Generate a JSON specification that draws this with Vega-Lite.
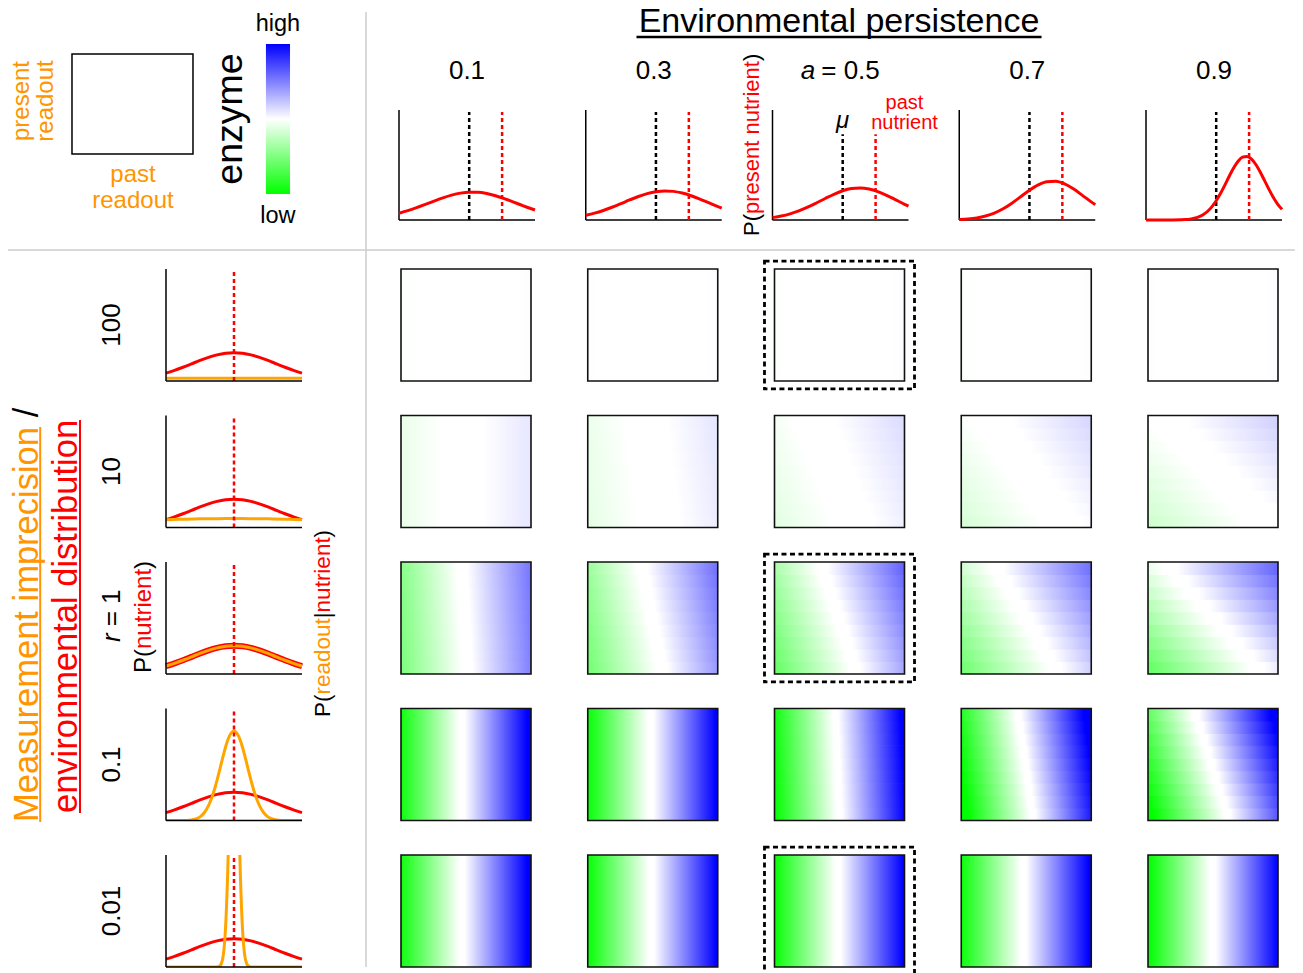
{
"$schema": "https://vega.github.io/schema/vega-lite/v6.json",
"background": "white",
"padding": 0,
"bounds": "flush",
"spacing": 269,
"config": {"font": "Liberation Sans", "view": {"stroke": null}},
"vconcat": [
{
"hconcat": [
{
"width": 366, "height": 250,
"data": {"values": [{}]},
"layer": [
{"mark": {"type": "rule", "color": "#cccccc", "strokeWidth": 1.5},
 "encoding": {"x": {"datum": 2.43, "type": "quantitative", "scale": {"domain": [-0.595, 2.43], "nice": false, "zero": false}, "axis": null},
  "y": {"datum": 1.42, "type": "quantitative", "scale": {"domain": [-0.96, 1.54], "nice": false, "zero": false}, "axis": null},
  "y2": {"datum": -8.13}}},
{"mark": {"type": "rule", "color": "#cccccc", "strokeWidth": 1.5},
 "encoding": {"x": {"datum": -0.529}, "x2": {"datum": 10.107}, "y": {"datum": -0.96}}},
{"mark": {"type": "rect", "filled": false, "color": "black", "strokeWidth": 1.5},
 "encoding": {"x": {"datum": 0}, "x2": {"datum": 1}, "y": {"datum": 0}, "y2": {"datum": 1}}},
{"mark": {"type": "rect", "fill": {"gradient": "linear", "x1": 0, "y1": 0, "x2": 0, "y2": 1, "stops": [{"offset": 0, "color": "#0000ff"}, {"offset": 0.5, "color": "#ffffff"}, {"offset": 1, "color": "#00ff00"}]}},
 "encoding": {"x": {"datum": 1.603}, "x2": {"datum": 1.802}, "y": {"datum": -0.4}, "y2": {"datum": 1.1}}},
{"mark": {"type": "text", "text": ["present", "readout"], "angle": 270, "fontSize": 24, "lineHeight": 24, "color": "#ff9500", "align": "center", "baseline": "alphabetic"},
 "encoding": {"x": {"datum": -0.355}, "y": {"datum": 0.53}}},
{"mark": {"type": "text", "text": ["past", "readout"], "fontSize": 24, "lineHeight": 26, "color": "#ff9500", "align": "center", "baseline": "alphabetic"},
 "encoding": {"x": {"datum": 0.504}, "y": {"datum": -0.28}}},
{"mark": {"type": "text", "text": "high", "fontSize": 23.5, "align": "center", "baseline": "alphabetic"},
 "encoding": {"x": {"datum": 1.702}, "y": {"datum": 1.23}}},
{"mark": {"type": "text", "text": "low", "fontSize": 23.5, "align": "center", "baseline": "alphabetic"},
 "encoding": {"x": {"datum": 1.702}, "y": {"datum": -0.687}}},
{"mark": {"type": "text", "text": "enzyme", "angle": 270, "fontSize": 37.5, "align": "center", "baseline": "alphabetic"},
 "encoding": {"x": {"datum": 1.405}, "y": {"datum": 0.35}}}
]
},
{
"data": {"values": [
{"a":0.1,"k":"c","n":-1.6,"p":0.0972},{"a":0.1,"k":"c","n":-1.4,"p":0.1337},{"a":0.1,"k":"c","n":-1.2,"p":0.1765},{"a":0.1,"k":"c","n":-1.0,"p":0.2237},{"a":0.1,"k":"c","n":-0.8,"p":0.2724},{"a":0.1,"k":"c","n":-0.6,"p":0.3186},{"a":0.1,"k":"c","n":-0.4,"p":0.3578},{"a":0.1,"k":"c","n":-0.2,"p":0.386},{"a":0.1,"k":"c","n":0,"p":0.3999},{"a":0.1,"k":"c","n":0.2,"p":0.3978},{"a":0.1,"k":"c","n":0.4,"p":0.3802},{"a":0.1,"k":"c","n":0.6,"p":0.3489},{"a":0.1,"k":"c","n":0.8,"p":0.3075},{"a":0.1,"k":"c","n":1.0,"p":0.2603},{"a":0.1,"k":"c","n":1.2,"p":0.2116},{"a":0.1,"k":"c","n":1.4,"p":0.1652},{"a":0.1,"k":"c","n":1.5,"p":0.1438},
{"a":0.3,"k":"c","n":-1.6,"p":0.0671},{"a":0.3,"k":"c","n":-1.4,"p":0.098},{"a":0.3,"k":"c","n":-1.2,"p":0.137},{"a":0.3,"k":"c","n":-1.0,"p":0.1834},{"a":0.3,"k":"c","n":-0.8,"p":0.2348},{"a":0.3,"k":"c","n":-0.6,"p":0.2877},{"a":0.3,"k":"c","n":-0.4,"p":0.3374},{"a":0.3,"k":"c","n":-0.2,"p":0.3787},{"a":0.3,"k":"c","n":0,"p":0.4067},{"a":0.3,"k":"c","n":0.2,"p":0.4181},{"a":0.3,"k":"c","n":0.4,"p":0.4112},{"a":0.3,"k":"c","n":0.6,"p":0.3871},{"a":0.3,"k":"c","n":0.8,"p":0.3487},{"a":0.3,"k":"c","n":1.0,"p":0.3006},{"a":0.3,"k":"c","n":1.2,"p":0.2481},{"a":0.3,"k":"c","n":1.4,"p":0.1958},{"a":0.3,"k":"c","n":1.5,"p":0.1712},
{"a":0.5,"k":"c","n":-1.6,"p":0.0342},{"a":0.5,"k":"c","n":-1.4,"p":0.0564},{"a":0.5,"k":"c","n":-1.2,"p":0.0881},{"a":0.5,"k":"c","n":-1.0,"p":0.1306},{"a":0.5,"k":"c","n":-0.8,"p":0.1835},{"a":0.5,"k":"c","n":-0.6,"p":0.2444},{"a":0.5,"k":"c","n":-0.4,"p":0.3087},{"a":0.5,"k":"c","n":-0.2,"p":0.3696},{"a":0.5,"k":"c","n":0,"p":0.4195},{"a":0.5,"k":"c","n":0.2,"p":0.4514},{"a":0.5,"k":"c","n":0.4,"p":0.4605},{"a":0.5,"k":"c","n":0.6,"p":0.4454},{"a":0.5,"k":"c","n":0.8,"p":0.4085},{"a":0.5,"k":"c","n":1.0,"p":0.3551},{"a":0.5,"k":"c","n":1.2,"p":0.2926},{"a":0.5,"k":"c","n":1.4,"p":0.2287},{"a":0.5,"k":"c","n":1.5,"p":0.1981},
{"a":0.7,"k":"c","n":-1.6,"p":0.0067},{"a":0.7,"k":"c","n":-1.4,"p":0.0148},{"a":0.7,"k":"c","n":-1.2,"p":0.0302},{"a":0.7,"k":"c","n":-1.0,"p":0.0571},{"a":0.7,"k":"c","n":-0.8,"p":0.0999},{"a":0.7,"k":"c","n":-0.6,"p":0.1615},{"a":0.7,"k":"c","n":-0.4,"p":0.2415},{"a":0.7,"k":"c","n":-0.2,"p":0.3338},{"a":0.7,"k":"c","n":0,"p":0.4264},{"a":0.7,"k":"c","n":0.2,"p":0.5038},{"a":0.7,"k":"c","n":0.4,"p":0.5502},{"a":0.7,"k":"c","n":0.6,"p":0.5556},{"a":0.7,"k":"c","n":0.8,"p":0.5188},{"a":0.7,"k":"c","n":1.0,"p":0.4479},{"a":0.7,"k":"c","n":1.2,"p":0.3575},{"a":0.7,"k":"c","n":1.4,"p":0.2638},{"a":0.7,"k":"c","n":1.5,"p":0.22},
{"a":0.9,"k":"c","n":-1.6,"p":0},{"a":0.9,"k":"c","n":-1.2,"p":0.0001},{"a":0.9,"k":"c","n":-1.0,"p":0.0006},{"a":0.9,"k":"c","n":-0.8,"p":0.003},{"a":0.9,"k":"c","n":-0.7,"p":0.0063},{"a":0.9,"k":"c","n":-0.6,"p":0.0127},{"a":0.9,"k":"c","n":-0.5,"p":0.0242},{"a":0.9,"k":"c","n":-0.4,"p":0.0437},{"a":0.9,"k":"c","n":-0.3,"p":0.075},{"a":0.9,"k":"c","n":-0.2,"p":0.122},{"a":0.9,"k":"c","n":-0.1,"p":0.1884},{"a":0.9,"k":"c","n":0,"p":0.276},{"a":0.9,"k":"c","n":0.1,"p":0.3835},{"a":0.9,"k":"c","n":0.2,"p":0.5055},{"a":0.9,"k":"c","n":0.3,"p":0.6322},{"a":0.9,"k":"c","n":0.4,"p":0.7502},{"a":0.9,"k":"c","n":0.5,"p":0.8445},{"a":0.9,"k":"c","n":0.6,"p":0.9018},{"a":0.9,"k":"c","n":0.7,"p":0.9138},{"a":0.9,"k":"c","n":0.8,"p":0.8784},{"a":0.9,"k":"c","n":0.9,"p":0.8012},{"a":0.9,"k":"c","n":1.0,"p":0.6932},{"a":0.9,"k":"c","n":1.1,"p":0.569},{"a":0.9,"k":"c","n":1.2,"p":0.4432},{"a":0.9,"k":"c","n":1.3,"p":0.3274},{"a":0.9,"k":"c","n":1.4,"p":0.2295},{"a":0.9,"k":"c","n":1.5,"p":0.1527},
{"a":0.1,"k":"mu","n":0},{"a":0.1,"k":"past","n":0.75},
{"a":0.3,"k":"mu","n":0},{"a":0.3,"k":"past","n":0.75},
{"a":0.5,"k":"mu","n":0},{"a":0.5,"k":"past","n":0.75},
{"a":0.7,"k":"mu","n":0},{"a":0.7,"k":"past","n":0.75},
{"a":0.9,"k":"mu","n":0},{"a":0.9,"k":"past","n":0.75},
{"a":0.1,"k":"head","t":"0.1"},{"a":0.3,"k":"head","t":"0.3"},{"a":0.7,"k":"head","t":"0.7"},{"a":0.9,"k":"head","t":"0.9"},
{"a":0.5,"k":"ann"}
]},
"facet": {"column": {"field": "a", "type": "ordinal", "header": null}},
"spacing": 50.75,
"bounds": "flush",
"spec": {
"width": 136, "height": 220,
"layer": [
{"transform": [{"filter": "datum.k == 'mu'"}],
 "mark": {"type": "rule", "color": "black", "strokeWidth": 1.5},
 "encoding": {"x": {"datum": -1.6, "type": "quantitative", "scale": {"domain": [-1.6, 1.5], "nice": false, "zero": false}, "axis": null},
  "y": {"datum": 0, "type": "quantitative", "scale": {"domain": [0, 3.16], "nice": false, "zero": false}, "axis": null},
  "y2": {"datum": 1.58}}},
{"transform": [{"filter": "datum.k == 'mu'"}],
 "mark": {"type": "rule", "color": "black", "strokeWidth": 1.5},
 "encoding": {"x": {"datum": -1.6}, "x2": {"datum": 1.5}, "y": {"datum": 0}}},
{"transform": [{"filter": "(datum.k == 'mu' || datum.k == 'past') && datum.a != 0.5"}],
 "mark": {"type": "rule", "strokeWidth": 2.5, "strokeDash": [4, 3]},
 "encoding": {"x": {"field": "n", "type": "quantitative"}, "y": {"datum": 0}, "y2": {"datum": 1.55},
  "color": {"field": "k", "type": "nominal", "scale": {"domain": ["mu", "past"], "range": ["black", "#ff0000"]}, "legend": null}}},
{"transform": [{"filter": "(datum.k == 'mu' || datum.k == 'past') && datum.a == 0.5"}],
 "mark": {"type": "rule", "strokeWidth": 2.5, "strokeDash": [4, 3]},
 "encoding": {"x": {"field": "n", "type": "quantitative"}, "y": {"datum": 0}, "y2": {"datum": 1.23},
  "color": {"field": "k", "type": "nominal", "legend": null}}},
{"transform": [{"filter": "datum.k == 'c'"}],
 "mark": {"type": "line", "color": "#ff0000", "strokeWidth": 3, "interpolate": "monotone"},
 "encoding": {"x": {"field": "n", "type": "quantitative"}, "y": {"field": "p", "type": "quantitative"}}},
{"transform": [{"filter": "datum.k == 'head'"}],
 "mark": {"type": "text", "fontSize": 26, "align": "center", "baseline": "middle"},
 "encoding": {"text": {"field": "t"}, "x": {"datum": -0.05}, "y": {"datum": 2.14}}},
{"transform": [{"filter": "datum.k == 'ann'"}],
 "mark": {"type": "text", "text": "= 0.5", "fontSize": 26, "align": "center", "baseline": "middle"},
 "encoding": {"x": {"datum": 0.178}, "y": {"datum": 2.14}}},
{"transform": [{"filter": "datum.k == 'ann'"}],
 "mark": {"type": "text", "text": "a", "fontStyle": "italic", "fontSize": 26, "align": "center", "baseline": "middle"},
 "encoding": {"x": {"datum": -0.791}, "y": {"datum": 2.14}}},
{"transform": [{"filter": "datum.k == 'ann'"}],
 "mark": {"type": "text", "text": "Environmental persistence", "fontSize": 34, "align": "center", "baseline": "alphabetic"},
 "encoding": {"x": {"datum": -0.084}, "y": {"datum": 2.7}}},
{"transform": [{"filter": "datum.k == 'ann'"}],
 "mark": {"type": "rule", "color": "black", "strokeWidth": 2.5},
 "encoding": {"x": {"datum": -4.7}, "x2": {"datum": 4.532}, "y": {"datum": 2.629}}},
{"transform": [{"filter": "datum.k == 'ann'"}],
 "mark": {"type": "text", "text": "μ", "fontStyle": "italic", "fontSize": 24, "align": "center", "baseline": "alphabetic"},
 "encoding": {"x": {"datum": 0}, "y": {"datum": 1.3215}}},
{"transform": [{"filter": "datum.k == 'ann'"}],
 "mark": {"type": "text", "text": ["past", "nutrient"], "color": "#ff0000", "fontSize": 20, "lineHeight": 20, "align": "center", "baseline": "middle"},
 "encoding": {"x": {"datum": 1.409}, "y": {"datum": 1.681}}},
{"transform": [{"filter": "datum.k == 'ann'"}],
 "mark": {"type": "text", "text": "P(", "angle": 270, "fontSize": 22, "align": "left", "baseline": "middle"},
 "encoding": {"x": {"datum": -2.056}, "y": {"datum": -0.23}}},
{"transform": [{"filter": "datum.k == 'ann'"}],
 "mark": {"type": "text", "text": "present nutrient", "color": "#ff0000", "angle": 270, "fontSize": 22, "align": "left", "baseline": "middle"},
 "encoding": {"x": {"datum": -2.056}, "y": {"datum": 0.086}}},
{"transform": [{"filter": "datum.k == 'ann'"}],
 "mark": {"type": "text", "text": ")", "angle": 270, "fontSize": 22, "align": "left", "baseline": "middle"},
 "encoding": {"x": {"datum": -2.056}, "y": {"datum": 2.284}}}
]
}
}
],
"spacing": 33,
"bounds": "flush"
},
{
"hconcat": [
{
"width": 67, "height": 698,
"data": {"values": [{}]},
"layer": [
{"mark": {"type": "text", "text": "Measurement imprecision", "angle": 270, "fontSize": 34.5, "color": "#ff9500", "align": "left", "baseline": "alphabetic"},
 "encoding": {"x": {"datum": 0.56, "type": "quantitative", "scale": {"domain": [0, 1], "nice": false, "zero": false}, "axis": null},
  "y": {"datum": 0.2077, "type": "quantitative", "scale": {"domain": [0, 1], "nice": false, "zero": false}, "axis": null}}},
{"mark": {"type": "text", "text": "/", "angle": 270, "fontSize": 34.5, "color": "black", "align": "left", "baseline": "alphabetic"},
 "encoding": {"x": {"datum": 0.56}, "y": {"datum": 0.7876}}},
{"mark": {"type": "rule", "color": "#ff9500", "strokeWidth": 2},
 "encoding": {"x": {"datum": 0.6}, "y": {"datum": 0.2077}, "y2": {"datum": 0.7736}}},
{"mark": {"type": "text", "text": "environmental distribution", "angle": 270, "fontSize": 34.5, "color": "#ff0000", "align": "left", "baseline": "alphabetic"},
 "encoding": {"x": {"datum": 1.149}, "y": {"datum": 0.2206}}},
{"mark": {"type": "rule", "color": "#ff0000", "strokeWidth": 2},
 "encoding": {"x": {"datum": 1.194}, "y": {"datum": 0.2206}, "y2": {"datum": 0.7837}}}
]
},
{
"hconcat": [
{
"data": {"values": [
{"r":100,"k":"env","n":-1.6,"p":0.1109},{"r":100,"k":"env","n":-1.4,"p":0.1497},{"r":100,"k":"env","n":-1.2,"p":0.1942},{"r":100,"k":"env","n":-1.0,"p":0.242},{"r":100,"k":"env","n":-0.8,"p":0.2897},{"r":100,"k":"env","n":-0.6,"p":0.3332},{"r":100,"k":"env","n":-0.4,"p":0.3683},{"r":100,"k":"env","n":-0.2,"p":0.391},{"r":100,"k":"env","n":0,"p":0.3989},{"r":100,"k":"env","n":0.2,"p":0.391},{"r":100,"k":"env","n":0.4,"p":0.3683},{"r":100,"k":"env","n":0.6,"p":0.3332},{"r":100,"k":"env","n":0.8,"p":0.2897},{"r":100,"k":"env","n":1.0,"p":0.242},{"r":100,"k":"env","n":1.2,"p":0.1942},{"r":100,"k":"env","n":1.4,"p":0.1497},{"r":100,"k":"env","n":1.6,"p":0.1109},
{"r":10,"k":"env","n":-1.6,"p":0.1109},{"r":10,"k":"env","n":-1.4,"p":0.1497},{"r":10,"k":"env","n":-1.2,"p":0.1942},{"r":10,"k":"env","n":-1.0,"p":0.242},{"r":10,"k":"env","n":-0.8,"p":0.2897},{"r":10,"k":"env","n":-0.6,"p":0.3332},{"r":10,"k":"env","n":-0.4,"p":0.3683},{"r":10,"k":"env","n":-0.2,"p":0.391},{"r":10,"k":"env","n":0,"p":0.3989},{"r":10,"k":"env","n":0.2,"p":0.391},{"r":10,"k":"env","n":0.4,"p":0.3683},{"r":10,"k":"env","n":0.6,"p":0.3332},{"r":10,"k":"env","n":0.8,"p":0.2897},{"r":10,"k":"env","n":1.0,"p":0.242},{"r":10,"k":"env","n":1.2,"p":0.1942},{"r":10,"k":"env","n":1.4,"p":0.1497},{"r":10,"k":"env","n":1.6,"p":0.1109},
{"r":1,"k":"env","n":-1.6,"p":0.1109},{"r":1,"k":"env","n":-1.4,"p":0.1497},{"r":1,"k":"env","n":-1.2,"p":0.1942},{"r":1,"k":"env","n":-1.0,"p":0.242},{"r":1,"k":"env","n":-0.8,"p":0.2897},{"r":1,"k":"env","n":-0.6,"p":0.3332},{"r":1,"k":"env","n":-0.4,"p":0.3683},{"r":1,"k":"env","n":-0.2,"p":0.391},{"r":1,"k":"env","n":0,"p":0.3989},{"r":1,"k":"env","n":0.2,"p":0.391},{"r":1,"k":"env","n":0.4,"p":0.3683},{"r":1,"k":"env","n":0.6,"p":0.3332},{"r":1,"k":"env","n":0.8,"p":0.2897},{"r":1,"k":"env","n":1.0,"p":0.242},{"r":1,"k":"env","n":1.2,"p":0.1942},{"r":1,"k":"env","n":1.4,"p":0.1497},{"r":1,"k":"env","n":1.6,"p":0.1109},
{"r":0.1,"k":"env","n":-1.6,"p":0.1109},{"r":0.1,"k":"env","n":-1.4,"p":0.1497},{"r":0.1,"k":"env","n":-1.2,"p":0.1942},{"r":0.1,"k":"env","n":-1.0,"p":0.242},{"r":0.1,"k":"env","n":-0.8,"p":0.2897},{"r":0.1,"k":"env","n":-0.6,"p":0.3332},{"r":0.1,"k":"env","n":-0.4,"p":0.3683},{"r":0.1,"k":"env","n":-0.2,"p":0.391},{"r":0.1,"k":"env","n":0,"p":0.3989},{"r":0.1,"k":"env","n":0.2,"p":0.391},{"r":0.1,"k":"env","n":0.4,"p":0.3683},{"r":0.1,"k":"env","n":0.6,"p":0.3332},{"r":0.1,"k":"env","n":0.8,"p":0.2897},{"r":0.1,"k":"env","n":1.0,"p":0.242},{"r":0.1,"k":"env","n":1.2,"p":0.1942},{"r":0.1,"k":"env","n":1.4,"p":0.1497},{"r":0.1,"k":"env","n":1.6,"p":0.1109},
{"r":0.01,"k":"env","n":-1.6,"p":0.1109},{"r":0.01,"k":"env","n":-1.4,"p":0.1497},{"r":0.01,"k":"env","n":-1.2,"p":0.1942},{"r":0.01,"k":"env","n":-1.0,"p":0.242},{"r":0.01,"k":"env","n":-0.8,"p":0.2897},{"r":0.01,"k":"env","n":-0.6,"p":0.3332},{"r":0.01,"k":"env","n":-0.4,"p":0.3683},{"r":0.01,"k":"env","n":-0.2,"p":0.391},{"r":0.01,"k":"env","n":0,"p":0.3989},{"r":0.01,"k":"env","n":0.2,"p":0.391},{"r":0.01,"k":"env","n":0.4,"p":0.3683},{"r":0.01,"k":"env","n":0.6,"p":0.3332},{"r":0.01,"k":"env","n":0.8,"p":0.2897},{"r":0.01,"k":"env","n":1.0,"p":0.242},{"r":0.01,"k":"env","n":1.2,"p":0.1942},{"r":0.01,"k":"env","n":1.4,"p":0.1497},{"r":0.01,"k":"env","n":1.6,"p":0.1109},
{"r":100,"k":"read","n":-1.6,"p":0.0394},{"r":100,"k":"read","n":-0.8,"p":0.0398},{"r":100,"k":"read","n":0,"p":0.0399},{"r":100,"k":"read","n":0.8,"p":0.0398},{"r":100,"k":"read","n":1.6,"p":0.0394},
{"r":10,"k":"read","n":-1.6,"p":0.111},{"r":10,"k":"read","n":-1.2,"p":0.1174},{"r":10,"k":"read","n":-0.8,"p":0.1222},{"r":10,"k":"read","n":-0.4,"p":0.1251},{"r":10,"k":"read","n":0,"p":0.1262},{"r":10,"k":"read","n":0.4,"p":0.1251},{"r":10,"k":"read","n":0.8,"p":0.1222},{"r":10,"k":"read","n":1.2,"p":0.1174},{"r":10,"k":"read","n":1.6,"p":0.111},
{"r":1,"k":"read","n":-1.6,"p":0.1109},{"r":1,"k":"read","n":-1.4,"p":0.1497},{"r":1,"k":"read","n":-1.2,"p":0.1942},{"r":1,"k":"read","n":-1.0,"p":0.242},{"r":1,"k":"read","n":-0.8,"p":0.2897},{"r":1,"k":"read","n":-0.6,"p":0.3332},{"r":1,"k":"read","n":-0.4,"p":0.3683},{"r":1,"k":"read","n":-0.2,"p":0.391},{"r":1,"k":"read","n":0,"p":0.3989},{"r":1,"k":"read","n":0.2,"p":0.391},{"r":1,"k":"read","n":0.4,"p":0.3683},{"r":1,"k":"read","n":0.6,"p":0.3332},{"r":1,"k":"read","n":0.8,"p":0.2897},{"r":1,"k":"read","n":1.0,"p":0.242},{"r":1,"k":"read","n":1.2,"p":0.1942},{"r":1,"k":"read","n":1.4,"p":0.1497},{"r":1,"k":"read","n":1.6,"p":0.1109},
{"r":0.1,"k":"read","n":-1.6,"p":0},{"r":0.1,"k":"read","n":-1.2,"p":0.0009},{"r":0.1,"k":"read","n":-1.0,"p":0.0085},{"r":0.1,"k":"read","n":-0.9,"p":0.022},{"r":0.1,"k":"read","n":-0.8,"p":0.0514},{"r":0.1,"k":"read","n":-0.7,"p":0.1089},{"r":0.1,"k":"read","n":-0.6,"p":0.2085},{"r":0.1,"k":"read","n":-0.5,"p":0.3614},{"r":0.1,"k":"read","n":-0.45,"p":0.4583},{"r":0.1,"k":"read","n":-0.4,"p":0.5669},{"r":0.1,"k":"read","n":-0.35,"p":0.6838},{"r":0.1,"k":"read","n":-0.3,"p":0.8044},{"r":0.1,"k":"read","n":-0.25,"p":0.923},{"r":0.1,"k":"read","n":-0.2,"p":1.0329},{"r":0.1,"k":"read","n":-0.15,"p":1.1273},{"r":0.1,"k":"read","n":-0.1,"p":1.2001},{"r":0.1,"k":"read","n":-0.05,"p":1.2459},{"r":0.1,"k":"read","n":0,"p":1.2616},{"r":0.1,"k":"read","n":0.05,"p":1.2459},{"r":0.1,"k":"read","n":0.1,"p":1.2001},{"r":0.1,"k":"read","n":0.15,"p":1.1273},{"r":0.1,"k":"read","n":0.2,"p":1.0329},{"r":0.1,"k":"read","n":0.25,"p":0.923},{"r":0.1,"k":"read","n":0.3,"p":0.8044},{"r":0.1,"k":"read","n":0.35,"p":0.6838},{"r":0.1,"k":"read","n":0.4,"p":0.5669},{"r":0.1,"k":"read","n":0.45,"p":0.4583},{"r":0.1,"k":"read","n":0.5,"p":0.3614},{"r":0.1,"k":"read","n":0.6,"p":0.2085},{"r":0.1,"k":"read","n":0.7,"p":0.1089},{"r":0.1,"k":"read","n":0.8,"p":0.0514},{"r":0.1,"k":"read","n":0.9,"p":0.022},{"r":0.1,"k":"read","n":1.0,"p":0.0085},{"r":0.1,"k":"read","n":1.2,"p":0.0009},{"r":0.1,"k":"read","n":1.6,"p":0},
{"r":0.01,"k":"read","n":-1.6,"p":0},{"r":0.01,"k":"read","n":-0.5,"p":0},{"r":0.01,"k":"read","n":-0.4,"p":0.0013},{"r":0.01,"k":"read","n":-0.35,"p":0.0087},{"r":0.01,"k":"read","n":-0.3,"p":0.0443},{"r":0.01,"k":"read","n":-0.25,"p":0.175},{"r":0.01,"k":"read","n":-0.2,"p":0.54},{"r":0.01,"k":"read","n":-0.15,"p":1.295},{"r":0.01,"k":"read","n":-0.1,"p":2.419},{"r":0.01,"k":"read","n":-0.05,"p":3.52},{"r":0.01,"k":"read","n":0,"p":3.989},{"r":0.01,"k":"read","n":0.05,"p":3.52},{"r":0.01,"k":"read","n":0.1,"p":2.419},{"r":0.01,"k":"read","n":0.15,"p":1.295},{"r":0.01,"k":"read","n":0.2,"p":0.54},{"r":0.01,"k":"read","n":0.25,"p":0.175},{"r":0.01,"k":"read","n":0.3,"p":0.0443},{"r":0.01,"k":"read","n":0.35,"p":0.0087},{"r":0.01,"k":"read","n":0.4,"p":0.0013},{"r":0.01,"k":"read","n":0.5,"p":0},{"r":0.01,"k":"read","n":1.6,"p":0},
{"r":100,"k":"mid","n":0},{"r":10,"k":"mid","n":0},{"r":1,"k":"mid","n":0},{"r":0.1,"k":"mid","n":0},{"r":0.01,"k":"mid","n":0},
{"r":100,"k":"lab","t":"100"},{"r":10,"k":"lab","t":"10"},{"r":0.1,"k":"lab","t":"0.1"},{"r":0.01,"k":"lab","t":"0.01"},
{"r":1,"k":"ann"}
]},
"facet": {"row": {"field": "r", "type": "ordinal", "sort": "descending", "header": null}},
"spacing": 34.5,
"bounds": "flush",
"spec": {
"width": 136, "height": 112,
"layer": [
{"transform": [{"filter": "datum.k == 'env' && datum.r == 1"}],
 "mark": {"type": "line", "color": "#ff0000", "strokeWidth": 6, "interpolate": "monotone"},
 "encoding": {"x": {"field": "n", "type": "quantitative", "scale": {"domain": [-1.6, 1.6], "nice": false, "zero": false}, "axis": null},
  "y": {"field": "p", "type": "quantitative", "scale": {"domain": [0, 1.58], "nice": false, "zero": false}, "axis": null}}},
{"transform": [{"filter": "datum.k == 'env'"}],
 "mark": {"type": "line", "color": "#ff0000", "strokeWidth": 3, "interpolate": "monotone"},
 "encoding": {"x": {"field": "n", "type": "quantitative"}, "y": {"field": "p", "type": "quantitative"}}},
{"transform": [{"filter": "datum.k == 'read'"}],
 "mark": {"type": "line", "color": "#ffa500", "strokeWidth": 3, "interpolate": "monotone", "clip": true},
 "encoding": {"x": {"field": "n", "type": "quantitative"}, "y": {"field": "p", "type": "quantitative"}}},
{"transform": [{"filter": "datum.k == 'mid'"}],
 "mark": {"type": "rule", "color": "#ff0000", "strokeWidth": 2.5, "strokeDash": [4, 3]},
 "encoding": {"x": {"field": "n", "type": "quantitative"}, "y": {"datum": 0}, "y2": {"datum": 1.58}}},
{"transform": [{"filter": "datum.k == 'mid'"}],
 "mark": {"type": "rule", "color": "black", "strokeWidth": 1.5},
 "encoding": {"x": {"datum": -1.6}, "y": {"datum": 0}, "y2": {"datum": 1.58}}},
{"transform": [{"filter": "datum.k == 'mid'"}],
 "mark": {"type": "rule", "color": "black", "strokeWidth": 1.5},
 "encoding": {"x": {"datum": -1.6}, "x2": {"datum": 1.6}, "y": {"datum": 0}}},
{"transform": [{"filter": "datum.k == 'lab'"}],
 "mark": {"type": "text", "angle": 270, "fontSize": 26, "align": "center", "baseline": "middle"},
 "encoding": {"text": {"field": "t"}, "x": {"datum": -2.871}, "y": {"datum": 0.79}}},
{"transform": [{"filter": "datum.k == 'ann'"}],
 "mark": {"type": "text", "text": "r", "fontStyle": "italic", "angle": 270, "fontSize": 26, "align": "left", "baseline": "middle"},
 "encoding": {"x": {"datum": -2.871}, "y": {"datum": 0.45}}},
{"transform": [{"filter": "datum.k == 'ann'"}],
 "mark": {"type": "text", "text": "= 1", "angle": 270, "fontSize": 26, "align": "left", "baseline": "middle"},
 "encoding": {"x": {"datum": -2.871}, "y": {"datum": 0.672}}},
{"transform": [{"filter": "datum.k == 'ann'"}],
 "mark": {"type": "text", "text": "P(", "angle": 270, "fontSize": 24, "align": "left", "baseline": "middle"},
 "encoding": {"x": {"datum": -2.118}, "y": {"datum": 0.014}}},
{"transform": [{"filter": "datum.k == 'ann'"}],
 "mark": {"type": "text", "text": "nutrient", "color": "#ff0000", "angle": 270, "fontSize": 24, "align": "left", "baseline": "middle"},
 "encoding": {"x": {"datum": -2.118}, "y": {"datum": 0.353}}},
{"transform": [{"filter": "datum.k == 'ann'"}],
 "mark": {"type": "text", "text": ")", "angle": 270, "fontSize": 24, "align": "left", "baseline": "middle"},
 "encoding": {"x": {"datum": -2.118}, "y": {"datum": 1.481}}},
{"transform": [{"filter": "datum.k == 'ann'"}],
 "mark": {"type": "text", "text": "P(", "angle": 270, "fontSize": 22.5, "align": "left", "baseline": "middle"},
 "encoding": {"x": {"datum": 2.094}, "y": {"datum": -0.607}}},
{"transform": [{"filter": "datum.k == 'ann'"}],
 "mark": {"type": "text", "text": "readout", "color": "#ff9500", "angle": 270, "fontSize": 22.5, "align": "left", "baseline": "middle"},
 "encoding": {"x": {"datum": 2.094}, "y": {"datum": -0.289}}},
{"transform": [{"filter": "datum.k == 'ann'"}],
 "mark": {"type": "text", "text": "|", "angle": 270, "fontSize": 22.5, "align": "left", "baseline": "middle"},
 "encoding": {"x": {"datum": 2.094}, "y": {"datum": 0.787}}},
{"transform": [{"filter": "datum.k == 'ann'"}],
 "mark": {"type": "text", "text": "nutrient", "color": "#ff0000", "angle": 270, "fontSize": 22.5, "align": "left", "baseline": "middle"},
 "encoding": {"x": {"datum": 2.094}, "y": {"datum": 0.869}}},
{"transform": [{"filter": "datum.k == 'ann'"}],
 "mark": {"type": "text", "text": ")", "angle": 270, "fontSize": 22.5, "align": "left", "baseline": "middle"},
 "encoding": {"x": {"datum": 2.094}, "y": {"datum": 1.927}}}
]
}
},
{
"data": {"values": [
{"a":0.1,"r":100,"y0":0,"y1":1,"lo":-19.5,"hi":20.5},{"a":0.3,"r":100,"y0":0,"y1":1,"lo":-19.5,"hi":20.5},{"a":0.5,"r":100,"y0":0,"y1":1,"lo":-19.5,"hi":20.5},{"a":0.7,"r":100,"y0":0,"y1":1,"lo":-19.5,"hi":20.5},{"a":0.9,"r":100,"y0":0,"y1":1,"lo":-19.5,"hi":20.5},
{"a":0.1,"r":10,"y0":0,"y1":1,"lo":-7.53,"hi":8.47},
{"a":0.3,"r":10,"y0":0,"y1":0.1111,"lo":-7.45,"hi":8.55},{"a":0.3,"r":10,"y0":0.1111,"y1":0.2222,"lo":-7.4625,"hi":8.5375},{"a":0.3,"r":10,"y0":0.2222,"y1":0.3333,"lo":-7.475,"hi":8.525},{"a":0.3,"r":10,"y0":0.3333,"y1":0.4444,"lo":-7.4875,"hi":8.5125},{"a":0.3,"r":10,"y0":0.4444,"y1":0.5556,"lo":-7.5,"hi":8.5},{"a":0.3,"r":10,"y0":0.5556,"y1":0.6667,"lo":-7.5125,"hi":8.4875},{"a":0.3,"r":10,"y0":0.6667,"y1":0.7778,"lo":-7.525,"hi":8.475},{"a":0.3,"r":10,"y0":0.7778,"y1":0.8889,"lo":-7.5375,"hi":8.4625},{"a":0.3,"r":10,"y0":0.8889,"y1":1,"lo":-7.55,"hi":8.45},
{"a":0.5,"r":10,"y0":0,"y1":0.1111,"lo":-7.4,"hi":8.6},{"a":0.5,"r":10,"y0":0.1111,"y1":0.2222,"lo":-7.436,"hi":8.564},{"a":0.5,"r":10,"y0":0.2222,"y1":0.3333,"lo":-7.472,"hi":8.528},{"a":0.5,"r":10,"y0":0.3333,"y1":0.4444,"lo":-7.509,"hi":8.491},{"a":0.5,"r":10,"y0":0.4444,"y1":0.5556,"lo":-7.545,"hi":8.455},{"a":0.5,"r":10,"y0":0.5556,"y1":0.6667,"lo":-7.581,"hi":8.419},{"a":0.5,"r":10,"y0":0.6667,"y1":0.7778,"lo":-7.617,"hi":8.383},{"a":0.5,"r":10,"y0":0.7778,"y1":0.8889,"lo":-7.654,"hi":8.346},{"a":0.5,"r":10,"y0":0.8889,"y1":1,"lo":-7.69,"hi":8.31},
{"a":0.7,"r":10,"y0":0,"y1":0.1111,"lo":-7.23,"hi":8.77},{"a":0.7,"r":10,"y0":0.1111,"y1":0.2222,"lo":-7.296,"hi":8.704},{"a":0.7,"r":10,"y0":0.2222,"y1":0.3333,"lo":-7.362,"hi":8.638},{"a":0.7,"r":10,"y0":0.3333,"y1":0.4444,"lo":-7.429,"hi":8.571},{"a":0.7,"r":10,"y0":0.4444,"y1":0.5556,"lo":-7.495,"hi":8.505},{"a":0.7,"r":10,"y0":0.5556,"y1":0.6667,"lo":-7.561,"hi":8.439},{"a":0.7,"r":10,"y0":0.6667,"y1":0.7778,"lo":-7.627,"hi":8.373},{"a":0.7,"r":10,"y0":0.7778,"y1":0.8889,"lo":-7.694,"hi":8.306},{"a":0.7,"r":10,"y0":0.8889,"y1":1,"lo":-7.76,"hi":8.24},
{"a":0.9,"r":10,"y0":0,"y1":0.1111,"lo":-7.1,"hi":8.9},{"a":0.9,"r":10,"y0":0.1111,"y1":0.2222,"lo":-7.194,"hi":8.806},{"a":0.9,"r":10,"y0":0.2222,"y1":0.3333,"lo":-7.287,"hi":8.713},{"a":0.9,"r":10,"y0":0.3333,"y1":0.4444,"lo":-7.381,"hi":8.619},{"a":0.9,"r":10,"y0":0.4444,"y1":0.5556,"lo":-7.475,"hi":8.525},{"a":0.9,"r":10,"y0":0.5556,"y1":0.6667,"lo":-7.569,"hi":8.431},{"a":0.9,"r":10,"y0":0.6667,"y1":0.7778,"lo":-7.662,"hi":8.338},{"a":0.9,"r":10,"y0":0.7778,"y1":0.8889,"lo":-7.756,"hi":8.244},{"a":0.9,"r":10,"y0":0.8889,"y1":1,"lo":-7.85,"hi":8.15},
{"a":0.1,"r":1,"y0":0,"y1":0.1111,"lo":-1.39,"hi":2.41},{"a":0.1,"r":1,"y0":0.1111,"y1":0.2222,"lo":-1.395,"hi":2.405},{"a":0.1,"r":1,"y0":0.2222,"y1":0.3333,"lo":-1.4,"hi":2.4},{"a":0.1,"r":1,"y0":0.3333,"y1":0.4444,"lo":-1.405,"hi":2.395},{"a":0.1,"r":1,"y0":0.4444,"y1":0.5556,"lo":-1.41,"hi":2.39},{"a":0.1,"r":1,"y0":0.5556,"y1":0.6667,"lo":-1.415,"hi":2.385},{"a":0.1,"r":1,"y0":0.6667,"y1":0.7778,"lo":-1.42,"hi":2.38},{"a":0.1,"r":1,"y0":0.7778,"y1":0.8889,"lo":-1.425,"hi":2.375},{"a":0.1,"r":1,"y0":0.8889,"y1":1,"lo":-1.43,"hi":2.37},
{"a":0.3,"r":1,"y0":0,"y1":0.1111,"lo":-1.43,"hi":2.57},{"a":0.3,"r":1,"y0":0.1111,"y1":0.2222,"lo":-1.449,"hi":2.551},{"a":0.3,"r":1,"y0":0.2222,"y1":0.3333,"lo":-1.467,"hi":2.533},{"a":0.3,"r":1,"y0":0.3333,"y1":0.4444,"lo":-1.486,"hi":2.514},{"a":0.3,"r":1,"y0":0.4444,"y1":0.5556,"lo":-1.505,"hi":2.495},{"a":0.3,"r":1,"y0":0.5556,"y1":0.6667,"lo":-1.524,"hi":2.476},{"a":0.3,"r":1,"y0":0.6667,"y1":0.7778,"lo":-1.542,"hi":2.458},{"a":0.3,"r":1,"y0":0.7778,"y1":0.8889,"lo":-1.561,"hi":2.439},{"a":0.3,"r":1,"y0":0.8889,"y1":1,"lo":-1.58,"hi":2.42},
{"a":0.5,"r":1,"y0":0,"y1":0.1111,"lo":-1.38,"hi":2.62},{"a":0.5,"r":1,"y0":0.1111,"y1":0.2222,"lo":-1.411,"hi":2.589},{"a":0.5,"r":1,"y0":0.2222,"y1":0.3333,"lo":-1.442,"hi":2.558},{"a":0.5,"r":1,"y0":0.3333,"y1":0.4444,"lo":-1.474,"hi":2.526},{"a":0.5,"r":1,"y0":0.4444,"y1":0.5556,"lo":-1.505,"hi":2.495},{"a":0.5,"r":1,"y0":0.5556,"y1":0.6667,"lo":-1.536,"hi":2.464},{"a":0.5,"r":1,"y0":0.6667,"y1":0.7778,"lo":-1.567,"hi":2.433},{"a":0.5,"r":1,"y0":0.7778,"y1":0.8889,"lo":-1.599,"hi":2.401},{"a":0.5,"r":1,"y0":0.8889,"y1":1,"lo":-1.63,"hi":2.37},
{"a":0.7,"r":1,"y0":0,"y1":0.1111,"lo":-1.78,"hi":3.22},{"a":0.7,"r":1,"y0":0.1111,"y1":0.2222,"lo":-1.835,"hi":3.165},{"a":0.7,"r":1,"y0":0.2222,"y1":0.3333,"lo":-1.89,"hi":3.11},{"a":0.7,"r":1,"y0":0.3333,"y1":0.4444,"lo":-1.945,"hi":3.055},{"a":0.7,"r":1,"y0":0.4444,"y1":0.5556,"lo":-2.0,"hi":3.0},{"a":0.7,"r":1,"y0":0.5556,"y1":0.6667,"lo":-2.055,"hi":2.945},{"a":0.7,"r":1,"y0":0.6667,"y1":0.7778,"lo":-2.11,"hi":2.89},{"a":0.7,"r":1,"y0":0.7778,"y1":0.8889,"lo":-2.165,"hi":2.835},{"a":0.7,"r":1,"y0":0.8889,"y1":1,"lo":-2.22,"hi":2.78},
{"a":0.9,"r":1,"y0":0,"y1":0.1111,"lo":-1.86,"hi":3.54},{"a":0.9,"r":1,"y0":0.1111,"y1":0.2222,"lo":-1.944,"hi":3.456},{"a":0.9,"r":1,"y0":0.2222,"y1":0.3333,"lo":-2.027,"hi":3.373},{"a":0.9,"r":1,"y0":0.3333,"y1":0.4444,"lo":-2.111,"hi":3.289},{"a":0.9,"r":1,"y0":0.4444,"y1":0.5556,"lo":-2.195,"hi":3.205},{"a":0.9,"r":1,"y0":0.5556,"y1":0.6667,"lo":-2.279,"hi":3.121},{"a":0.9,"r":1,"y0":0.6667,"y1":0.7778,"lo":-2.362,"hi":3.038},{"a":0.9,"r":1,"y0":0.7778,"y1":0.8889,"lo":-2.446,"hi":2.954},{"a":0.9,"r":1,"y0":0.8889,"y1":1,"lo":-2.53,"hi":2.87},
{"a":0.1,"r":0.1,"y0":0,"y1":1,"lo":-0.53,"hi":1.47},
{"a":0.3,"r":0.1,"y0":0,"y1":1,"lo":-0.515,"hi":1.485},
{"a":0.5,"r":0.1,"y0":0,"y1":0.1111,"lo":-0.5,"hi":1.5},{"a":0.5,"r":0.1,"y0":0.1111,"y1":0.2222,"lo":-0.504,"hi":1.496},{"a":0.5,"r":0.1,"y0":0.2222,"y1":0.3333,"lo":-0.507,"hi":1.493},{"a":0.5,"r":0.1,"y0":0.3333,"y1":0.4444,"lo":-0.511,"hi":1.489},{"a":0.5,"r":0.1,"y0":0.4444,"y1":0.5556,"lo":-0.515,"hi":1.485},{"a":0.5,"r":0.1,"y0":0.5556,"y1":0.6667,"lo":-0.519,"hi":1.481},{"a":0.5,"r":0.1,"y0":0.6667,"y1":0.7778,"lo":-0.522,"hi":1.478},{"a":0.5,"r":0.1,"y0":0.7778,"y1":0.8889,"lo":-0.526,"hi":1.474},{"a":0.5,"r":0.1,"y0":0.8889,"y1":1,"lo":-0.53,"hi":1.47},
{"a":0.7,"r":0.1,"y0":0,"y1":0.1111,"lo":-0.45,"hi":1.55},{"a":0.7,"r":0.1,"y0":0.1111,"y1":0.2222,"lo":-0.464,"hi":1.536},{"a":0.7,"r":0.1,"y0":0.2222,"y1":0.3333,"lo":-0.477,"hi":1.523},{"a":0.7,"r":0.1,"y0":0.3333,"y1":0.4444,"lo":-0.491,"hi":1.509},{"a":0.7,"r":0.1,"y0":0.4444,"y1":0.5556,"lo":-0.505,"hi":1.495},{"a":0.7,"r":0.1,"y0":0.5556,"y1":0.6667,"lo":-0.519,"hi":1.481},{"a":0.7,"r":0.1,"y0":0.6667,"y1":0.7778,"lo":-0.532,"hi":1.468},{"a":0.7,"r":0.1,"y0":0.7778,"y1":0.8889,"lo":-0.546,"hi":1.454},{"a":0.7,"r":0.1,"y0":0.8889,"y1":1,"lo":-0.56,"hi":1.44},
{"a":0.9,"r":0.1,"y0":0,"y1":0.1111,"lo":-0.54,"hi":1.76},{"a":0.9,"r":0.1,"y0":0.1111,"y1":0.2222,"lo":-0.57,"hi":1.73},{"a":0.9,"r":0.1,"y0":0.2222,"y1":0.3333,"lo":-0.6,"hi":1.7},{"a":0.9,"r":0.1,"y0":0.3333,"y1":0.4444,"lo":-0.63,"hi":1.67},{"a":0.9,"r":0.1,"y0":0.4444,"y1":0.5556,"lo":-0.66,"hi":1.64},{"a":0.9,"r":0.1,"y0":0.5556,"y1":0.6667,"lo":-0.69,"hi":1.61},{"a":0.9,"r":0.1,"y0":0.6667,"y1":0.7778,"lo":-0.72,"hi":1.58},{"a":0.9,"r":0.1,"y0":0.7778,"y1":0.8889,"lo":-0.75,"hi":1.55},{"a":0.9,"r":0.1,"y0":0.8889,"y1":1,"lo":-0.78,"hi":1.52},
{"a":0.1,"r":0.01,"y0":0,"y1":1,"lo":-0.53,"hi":1.47},{"a":0.3,"r":0.01,"y0":0,"y1":1,"lo":-0.51,"hi":1.49},{"a":0.5,"r":0.01,"y0":0,"y1":1,"lo":-0.51,"hi":1.49},{"a":0.7,"r":0.01,"y0":0,"y1":1,"lo":-0.52,"hi":1.48},{"a":0.9,"r":0.01,"y0":0,"y1":1,"lo":-0.5,"hi":1.5}
]},
"facet": {"row": {"field": "r", "type": "ordinal", "sort": "descending", "header": null}, "column": {"field": "a", "type": "ordinal", "header": null}},
"spacing": {"row": 34.5, "column": 56.75},
"bounds": "flush",
"spec": {
"width": 130, "height": 112,
"layer": [
{"mark": {"type": "rect", "clip": true, "strokeWidth": 1,
  "fill": {"gradient": "linear", "x1": 0, "y1": 0, "x2": 1, "y2": 0, "stops": [{"offset": 0, "color": "#00ff00"}, {"offset": 0.25, "color": "#00ff00"}, {"offset": 0.49, "color": "#ffffff"}, {"offset": 0.51, "color": "#ffffff"}, {"offset": 0.75, "color": "#0000ff"}, {"offset": 1, "color": "#0000ff"}]},
  "stroke": {"gradient": "linear", "x1": 0, "y1": 0, "x2": 1, "y2": 0, "stops": [{"offset": 0, "color": "#00ff00"}, {"offset": 0.25, "color": "#00ff00"}, {"offset": 0.49, "color": "#ffffff"}, {"offset": 0.51, "color": "#ffffff"}, {"offset": 0.75, "color": "#0000ff"}, {"offset": 1, "color": "#0000ff"}]}},
 "encoding": {"x": {"field": "lo", "type": "quantitative", "scale": {"domain": [0, 1], "nice": false, "zero": false}, "axis": null},
  "x2": {"field": "hi"},
  "y": {"field": "y0", "type": "quantitative", "scale": {"domain": [0, 1], "nice": false, "zero": false}, "axis": null},
  "y2": {"field": "y1"}}},
{"transform": [{"filter": "datum.y0 == 0"}],
 "mark": {"type": "rect", "filled": false, "color": "#111111", "strokeWidth": 1.6},
 "encoding": {"x": {"datum": 0}, "x2": {"datum": 1}, "y": {"datum": 0}, "y2": {"datum": 1}}},
{"transform": [{"filter": "datum.y0 == 0 && datum.a == 0.5 && (datum.r == 100 || datum.r == 1 || datum.r == 0.01)"}],
 "mark": {"type": "rect", "filled": false, "color": "black", "strokeWidth": 2.8, "strokeDash": [5, 3.5]},
 "encoding": {"x": {"datum": -0.077}, "x2": {"datum": 1.077}, "y": {"datum": -0.071}, "y2": {"datum": 1.071}}}
]
}
}
],
"spacing": 235,
"bounds": "flush"
}
],
"spacing": 99,
"bounds": "flush"
}
]
}
